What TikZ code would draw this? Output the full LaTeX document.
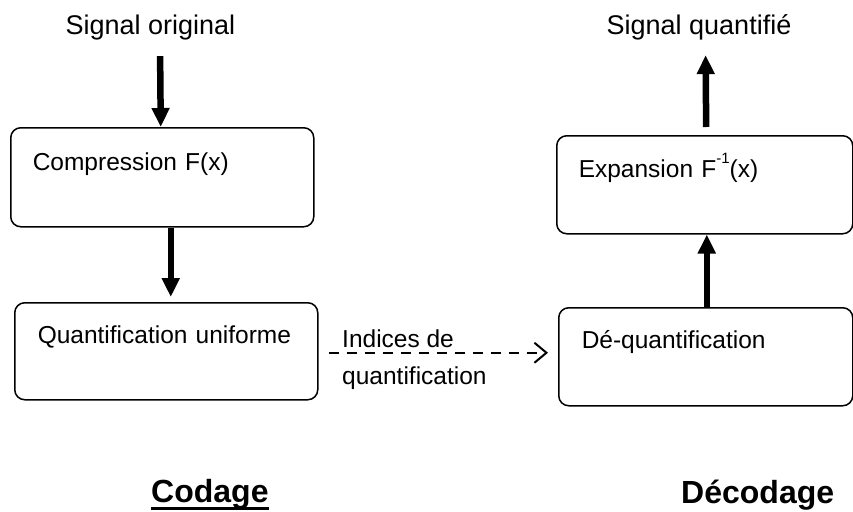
\documentclass[tikz,border=0pt]{standalone}
\usepackage{fontspec}
\setmainfont{Liberation Sans}
\usetikzlibrary{arrows.meta}
\tikzset{
  blk/.style={draw, line width=1.5pt, rounded corners=10pt, inner ysep=0pt,
    align=left, font=\fontsize{24.5}{28}\selectfont, anchor=north west},
  ttl/.style={font=\fontsize{27}{32}\selectfont, anchor=base},
  thk/.style={line width=6.5pt, -{Triangle[width=17pt,length=19pt]}},
  dsh/.style={line width=2pt, dash pattern=on 10pt off 8pt,
    -{Straight Barb[length=12pt,width=20pt,line width=2pt]}},
  lbl/.style={font=\fontsize{24.5}{37}\selectfont, inner sep=0pt, align=left, anchor=base west},
  big/.style={font=\fontsize{32}{38}\selectfont\bfseries, inner sep=0pt, anchor=base west}
}
\begin{document}
\begin{tikzpicture}[x=1pt,y=-1pt]
\useasboundingbox (0,0) rectangle (853,511);
% titles
\node[ttl] (sigin) at (150.5,35) {Signal original};
\node[ttl] (sigq) at (699,35) {Signal quantifi\'e};
% boxes
\node[blk, text width=259pt, inner xsep=22pt, text height=43pt, text depth=56pt] (comp) at (10,127) {Compression F(x)};
\node[blk, text width=257pt, inner xsep=23pt, text height=41pt, text depth=56pt] (quant) at (14,302) {Quantification uniforme};
\node[blk, text width=252pt, inner xsep=22pt, text height=42pt, text depth=56pt] (exp) at (556,135) {Expansion F\raisebox{14pt}{\fontsize{15}{15}\selectfont -1}(x)};
\node[blk, text width=248pt, inner xsep=23pt, text height=41pt, text depth=57pt] (deq) at (558,307) {D\'e-quantification};
% label of dashed connector (anchored at the baseline of its last line)
\node[lbl] (idx) at (342,384) {Indices de\\quantification};
% bottom titles
\node[big] (cod) at (151,502) {Codage};
\draw[line width=3pt] ([yshift=-6.5pt]cod.base west) -- ([yshift=-6.5pt]cod.base east);
\node[big] (dec) at (681,503) {D\'ecodage};
% connectors
\draw[thk, shorten <=12pt] ([xshift=9.5pt]sigin.south) -- ([xshift=-1.5pt]comp.north);
\draw[thk, shorten >=5pt] ([xshift=8.5pt]comp.south) -- ([xshift=4.5pt]quant.north);
\draw[thk] ([xshift=1pt]deq.north) -- ([xshift=2pt]exp.south);
\draw[thk, shorten <=8pt, shorten >=11pt] ([xshift=1.5pt]exp.north) -- ([xshift=6.5pt]sigq.south);
\draw[dsh] ([xshift=10pt,yshift=-1.5pt]quant.east) -- ([xshift=-10pt,yshift=-1.5pt]quant.east -| deq.west);
\end{tikzpicture}
\end{document}
